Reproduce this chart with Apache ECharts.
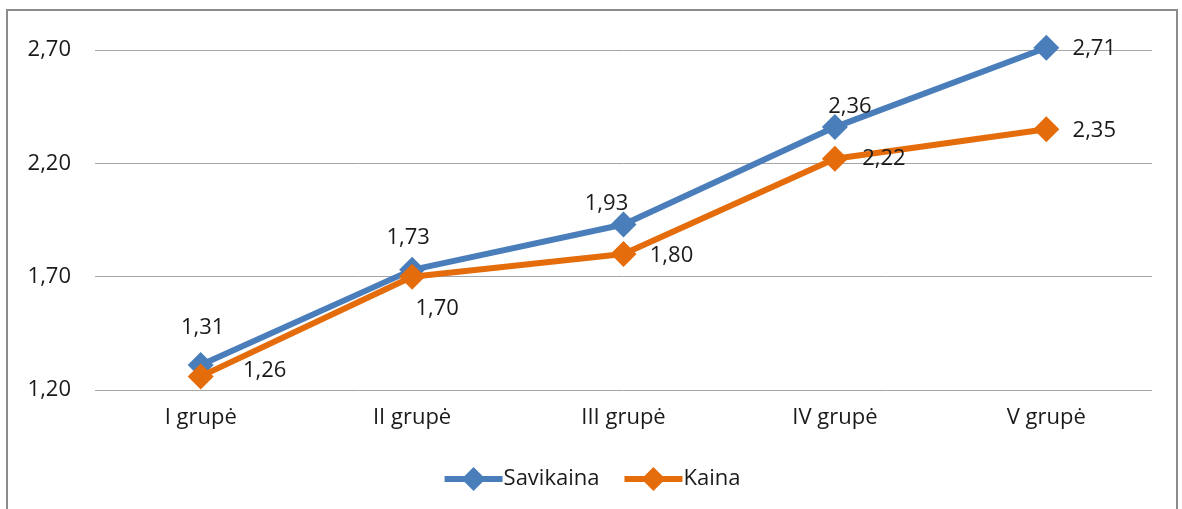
<!DOCTYPE html>
<html>
<head>
<meta charset="utf-8">
<script src="https://cdn.jsdelivr.net/npm/echarts@6/dist/echarts.min.js"></script>
<style>
html,body{margin:0;padding:0;background:#fff;}
#frame{position:absolute;left:6px;top:9px;width:1172px;height:520px;border:2px solid #8c8c8c;box-sizing:border-box;}
#chart{position:absolute;left:0;top:0;width:1182px;height:509px;}
</style>
</head>
<body>
<div id="frame"></div>
<div id="chart"></div>
<script>
const categories = ['I grupė', 'II grupė', 'III grupė', 'IV grupė', 'V grupė'];
const savikaina = [1.31, 1.73, 1.93, 2.36, 2.71];
const kaina = [1.26, 1.70, 1.80, 2.22, 2.35];
const yTicks = { min: 1.2, max: 2.7, interval: 0.5 };

// label placement (layout only)
const savOffsets = [[2, -37], [-4, -32], [-17, -21], [15, -20], [48, 1]];
const kaiOffsets = [[64, -6], [25, 32], [48, 2], [49, 0], [48, 1]];

const fmt = v => v.toFixed(2).replace('.', ',');
const FONT = 'Open Sans';
const TXT = '#1a1a1a';
const FS = 22;

function build(values, offsets) {
  return values.map((v, i) => ({
    value: v,
    label: {
      show: true, position: 'inside', offset: offsets[i],
      formatter: p => fmt(p.value), color: TXT, fontSize: FS, fontFamily: FONT
    }
  }));
}

const chart = echarts.init(document.getElementById('chart'), null, { renderer: 'canvas' });
chart.setOption({
  animation: false,
  grid: { left: 95, right: 30, top: 50, bottom: 119, containLabel: false },
  legend: {
    bottom: 13, left: 'center', itemWidth: 58, itemHeight: 30, itemGap: 22,
    lineStyle: { width: 6 },
    textStyle: { fontSize: FS, fontFamily: FONT, color: TXT, padding: [0, 0, 0, -4] },
    data: ['Savikaina', 'Kaina']
  },
  xAxis: {
    type: 'category', data: categories, boundaryGap: true,
    axisLine: { show: false }, axisTick: { show: false },
    axisLabel: { fontSize: FS, fontFamily: FONT, color: TXT, margin: 17 }
  },
  yAxis: {
    type: 'value', min: yTicks.min, max: yTicks.max, interval: yTicks.interval,
    axisLine: { show: false }, axisTick: { show: false },
    axisLabel: { fontSize: FS, fontFamily: FONT, color: TXT, margin: 24, formatter: v => fmt(v) },
    splitLine: { lineStyle: { color: '#a6a6a6', width: 1 } }
  },
  series: [
    {
      name: 'Savikaina', type: 'line', data: build(savikaina, savOffsets), clip: false,
      symbol: 'diamond', symbolSize: 26, color: '#4a7ebb',
      lineStyle: { width: 6, color: '#4a7ebb' }, itemStyle: { color: '#4a7ebb' }, z: 3
    },
    {
      name: 'Kaina', type: 'line', data: build(kaina, kaiOffsets), clip: false,
      symbol: 'diamond', symbolSize: 26, color: '#e46c0a',
      lineStyle: { width: 6, color: '#e46c0a' }, itemStyle: { color: '#e46c0a' }, z: 4
    }
  ]
});
</script>
</body>
</html>
